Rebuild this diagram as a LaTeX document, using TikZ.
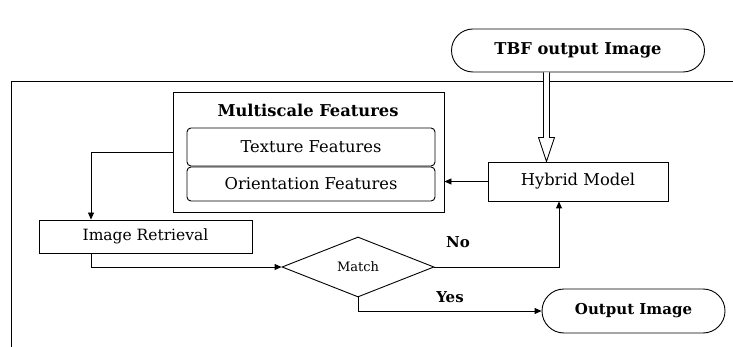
\documentclass[tikz,border=0pt]{standalone}
\usepackage{fontspec}
\setmainfont{DejaVu Serif}
\usetikzlibrary{shapes.geometric, shapes.misc, arrows.meta, calc}

\begin{document}
\begin{tikzpicture}[x=1pt, y=-1pt,
    every node/.style={font=\fontsize{16.3}{19}\selectfont, inner sep=0pt},
    box/.style={draw, line width=0.9pt},
    pill/.style={draw, line width=0.9pt, rounded rectangle, font=\bfseries\fontsize{16.3}{19}\selectfont},
    lbl/.style={font=\bfseries\fontsize{15}{18}\selectfont},
    arr/.style={line width=0.9pt, -{Triangle[length=7pt, width=6pt]}}]
    \useasboundingbox (0,0) rectangle (733,347);

    % Frame
    \draw[line width=0.9pt] (733,81) -- (11,81) -- (11,347);

    % Nodes
    \node[pill, minimum width=253pt, minimum height=43pt] (tbf) at (578,50.5) {TBF output Image};
    \node[box, minimum width=271pt, minimum height=120pt] (feat) at (308.5,152) {};
    \node[lbl, font=\bfseries\fontsize{16.3}{19}\selectfont] (title) at (308,110) {Multiscale Features};
    \node[box, rounded corners=4pt, minimum width=248pt, minimum height=38pt] (texture) at (311,147) {Texture Features};
    \node[box, rounded corners=4pt, minimum width=248pt, minimum height=34pt] (orient) at (311,184) {Orientation Features};
    \node[box, minimum width=180pt, minimum height=39pt] (hybrid) at (578,181.5) {Hybrid Model};
    \node[box, minimum width=213pt, minimum height=33pt, font=\fontsize{15.5}{18}\selectfont] (retr) at (145.5,236.5) {Image Retrieval};
    \node[box, diamond, minimum width=152pt, minimum height=60pt, font=\fontsize{13}{16}\selectfont] (match) at (358,267) {Match};
    \node[pill, minimum width=183pt, minimum height=44pt, font=\bfseries\fontsize{15}{18}\selectfont] (outimg) at (633.5,311) {Output Image};
    \node[lbl] (no) at (458,242) {No};
    \node[lbl] (yes) at (450,297) {Yes};

    % Edges
    \coordinate (dtop) at (546.5,0 |- tbf.south);
    \coordinate (dbot) at (546.5,0 |- hybrid.north);
    \draw[line width=0.9pt, fill=white] ($(dtop)+(-3,0)$) -- ($(dbot)+(-3,-24)$) -- ($(dbot)+(-8,-24)$) -- (dbot)
        -- ($(dbot)+(8,-24)$) -- ($(dbot)+(3,-24)$) -- ($(dtop)+(3,0)$);
    \draw[arr] (hybrid.west) -- (hybrid.west -| feat.east);
    \draw[arr] (feat.west) -| (91,0 |- retr.north);
    \draw[arr] (91,0 |- retr.south) |- (match.west);
    \draw[arr] (match.east) -| (559,0 |- hybrid.south);
    \draw[arr] (match.south) |- (outimg.west);
\end{tikzpicture}
\end{document}
